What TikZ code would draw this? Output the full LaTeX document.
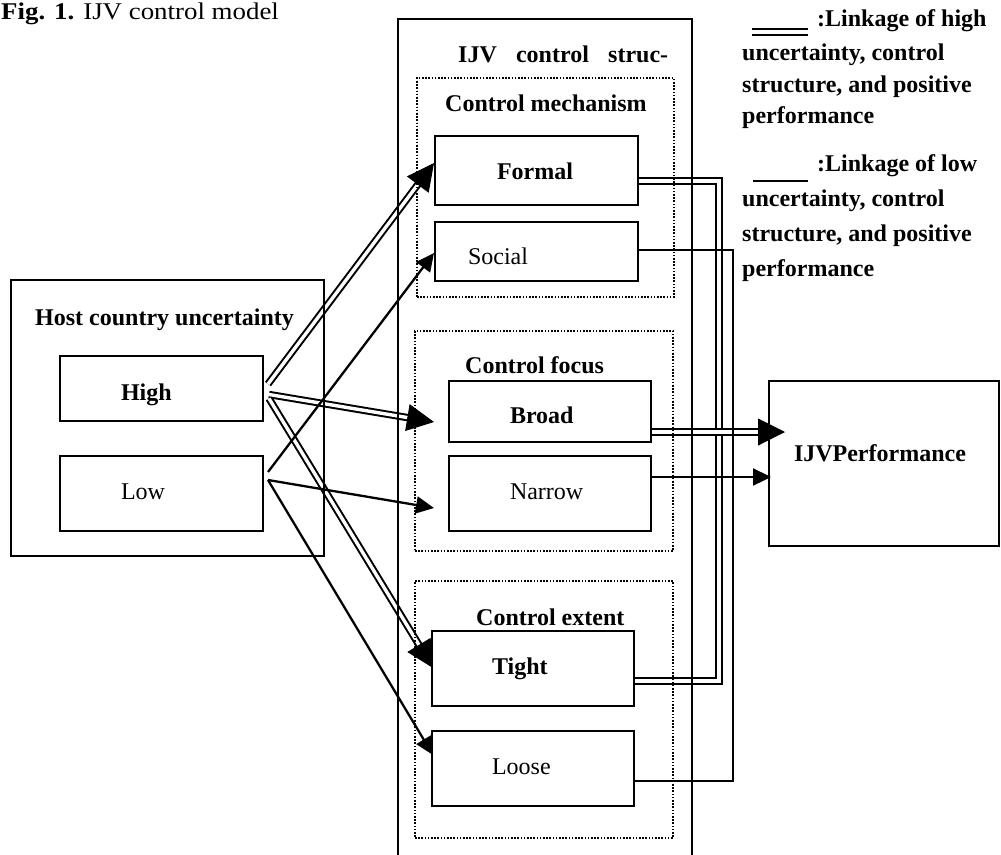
\documentclass[tikz,border=0pt]{standalone}
\usepackage{fontspec}
\setmainfont{Liberation Serif}
\usetikzlibrary{arrows.meta,calc}
\pgfdeclarelayer{back}
\pgfsetlayers{back,main}
\newcommand\lblfont{\fontsize{24}{28}\selectfont}
\tikzset{
  frame/.style={draw, line width=2.1pt, anchor=north west, inner sep=0pt, outer sep=0pt},
  item/.style={frame, align=left, font=\lblfont, inner ysep=0pt, text height=16pt, text depth=5pt},
  bolditem/.style={item, font=\lblfont\bfseries},
  dotframe/.style={draw, line width=1.6pt, dash pattern=on 1.6pt off 1.6pt, anchor=north west, inner sep=0pt, outer sep=0pt},
  heading/.style={anchor=base west, inner sep=0pt, font=\lblfont\bfseries},
  dbl/.style={double, line width=2pt, double distance=3.4pt},
  sgl/.style={line width=2.3pt},
  bigtip/.style={-{Triangle[length=27pt,width=27pt]}, line width=1pt},
  midtip/.style={-{Triangle[length=18pt,width=17pt]}},
}
\begin{document}
\begin{tikzpicture}[x=1pt,y=-1pt]
\useasboundingbox (0,0) rectangle (1001,854);

% caption
\node[anchor=base west, inner sep=0pt, font=\lblfont] (fig) at (1,19) {\scalebox{1.12}[1]{\textbf{Fig. 1.} IJV control model}};

% host country uncertainty
\node[frame, minimum width=313pt, minimum height=276pt] (host) at (11,280) {};
\node[heading] (hosttitle) at (35,325) {Host country uncertainty};
\node[bolditem, minimum width=203pt, minimum height=65pt, inner xsep=61pt, text width=81pt] (high) at (60,356) {\raisebox{-6pt}{High}};
\node[item, minimum width=203pt, minimum height=75pt, inner xsep=61pt, text width=81pt] (low) at (60,456) {Low};

% IJV control structure
\node[frame, minimum width=294pt, minimum height=880pt] (struct) at (398,19) {};
\node[heading] (structtitle) at (458,62) {\makebox[210pt][s]{IJV control struc-}};

\node[dotframe, minimum width=257pt, minimum height=219pt] (mech) at (417,78) {};
\node[heading] (mechtitle) at (445,111) {Control mechanism};
\node[bolditem, minimum width=203pt, minimum height=69pt, inner xsep=62pt, text width=79pt] (formal) at (435,136) {\raisebox{-3pt}{Formal}};
\node[item, minimum width=203pt, minimum height=59pt, inner xsep=33pt, text width=137pt] (social) at (435,222) {\raisebox{-7pt}{Social}};

\node[dotframe, minimum width=258pt, minimum height=220pt] (focus) at (415,331) {};
\node[heading] (focustitle) at (465,373) {Control focus};
\node[bolditem, minimum width=202pt, minimum height=61pt, inner xsep=61pt, text width=80pt] (broad) at (449,381) {\raisebox{-6pt}{Broad}};
\node[item, minimum width=202pt, minimum height=75pt, inner xsep=61pt, text width=80pt] (narrow) at (449,456) {Narrow};

\node[dotframe, minimum width=258pt, minimum height=257pt] (extent) at (415,581) {};
\node[heading] (extenttitle) at (476,625) {Control extent};
\node[bolditem, minimum width=202pt, minimum height=75pt, inner xsep=60pt, text width=82pt] (tight) at (432,631) {Tight};
\node[item, minimum width=202pt, minimum height=75pt, inner xsep=60pt, text width=82pt] (loose) at (432,731) {Loose};

% performance
\node[bolditem, minimum width=230pt, minimum height=165pt, inner xsep=25pt, text width=180pt] (perf) at (769,381) {\raisebox{8pt}{IJVPerformance}};

% legend
\node[heading] (leg1a) at (817,26) {:Linkage of high};
\node[heading] (leg1b) at (742,60) {uncertainty, control};
\node[heading] (leg1c) at (742,92) {structure, and positive};
\node[heading] (leg1d) at (742,123) {performance};
\node[heading] (leg2a) at (817,171) {:Linkage of low};
\node[heading] (leg2b) at (742,206) {uncertainty, control};
\node[heading] (leg2c) at (742,241) {structure, and positive};
\node[heading] (leg2d) at (742,276) {performance};
\coordinate (k1a) at (752,29);
\coordinate (k1b) at (808,29);
\coordinate (k1c) at (752,34.5);
\coordinate (k1d) at (808,34.5);
\coordinate (k2a) at (753,181);
\coordinate (k2b) at (808,181);
\draw[line width=2pt] (k1a) -- (k1b);
\draw[line width=2pt] (k1c) -- (k1d);

% connector ends
\coordinate (hF) at ($(high.east)+(5,-4.5)$);
\coordinate (hB) at ($(high.east)+(6,6)$);
\coordinate (hT) at ($(high.east)+(6,10)$);
\coordinate (lS) at ($(low.east)+(5,-21.5)$);
\coordinate (lN) at ($(low.east)+(5,-13.5)$);
\coordinate (tF) at ($(formal.west)+(-1,-7.5)$);
\coordinate (tS) at ($(social.west)+(-1,1.5)$);
\coordinate (tB) at ($(broad.west)+(-15,10.5)$);
\coordinate (tN) at ($(narrow.west)+(-15,14.5)$);
\coordinate (tT) at ($(tight.west)+(1,-0.5)$);
\coordinate (tL) at ($(loose.west)+(1,-13.5)$);
\coordinate (oF) at ($(formal.east)+(0,10.5)$);
\coordinate (oS) at ($(social.east)+(0,-1.5)$);
\coordinate (oB) at ($(broad.east)+(0,20.5)$);
\coordinate (oN) at ($(narrow.east)+(0,-16.5)$);
\coordinate (oT) at ($(tight.east)+(0,12.5)$);
\coordinate (oL) at ($(loose.east)+(0,12.5)$);
\coordinate (pB) at ($(perf.west)+(16,-31.5)$);
\coordinate (pN) at ($(perf.west)+(2,13.5)$);
\coordinate (busD) at (719,681);
\coordinate (busS) at (733,781);

% high-uncertainty linkages (double lines)
\begin{pgfonlayer}{back}
\draw[dbl, shorten >=16pt] (hF) -- (tF);
\draw[dbl, shorten >=16pt] (hB) -- (tB);
\draw[dbl, shorten >=16pt] (hT) -- (tT);
\draw[dbl] (oF) -| (busD) -- (oT);
\draw[dbl, shorten >=16pt] (oB) -- (pB);
\end{pgfonlayer}
\draw[bigtip] ($(tF)!27pt!(hF)$) -- (tF);
\draw[bigtip] ($(tB)!27pt!(hB)$) -- (tB);
\draw[bigtip] ($(tT)!27pt!(hT)$) -- (tT);
\draw[bigtip] ($(pB)!27pt!(oB)$) -- (pB);

% low-uncertainty linkages (single lines)
\draw[sgl, midtip] (lS) -- (tS);
\draw[sgl, midtip] (lN) -- (tN);
\draw[sgl, midtip] (lN) -- (tL);
\draw[sgl, midtip] (oN) -- (pN);
\draw[sgl] (oS) -| (busS) -- (oL);
\draw[sgl] (k2a) -- (k2b);
\end{tikzpicture}
\end{document}
